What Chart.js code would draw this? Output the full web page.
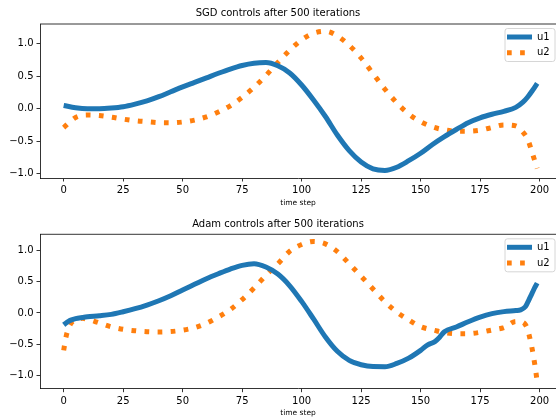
<!DOCTYPE html>
<html>
<head>
<meta charset="utf-8">
<script src="https://cdn.jsdelivr.net/npm/chart.js@4.4.1/dist/chart.umd.min.js"></script>
<style>
  html, body { margin: 0; padding: 0; background: #fff; overflow: hidden; }
  #wrap { position: relative; width: 556px; height: 419px; }
  canvas { position: absolute; left: 0; }
</style>
</head>
<body>
<div id="wrap">
  <canvas id="sgd" width="556" height="210" style="top:0"></canvas>
  <canvas id="adam" width="556" height="209" style="top:210px"></canvas>
</div>
<script>
const xTicks = [0, 25, 50, 75, 100, 125, 150, 175, 200];
const yTicks = [-1.0, -0.5, 0.0, 0.5, 1.0];
const seriesLabels = ["u1", "u2"];

// SGD run
const sgdSteps = [0, 5, 10, 15, 20, 25, 30, 35, 40, 45, 50, 55, 60, 65, 70, 75, 80, 85, 90, 95,
  100, 105, 110, 115, 120, 125, 130, 135, 140, 145, 150, 155, 160, 165, 170, 175, 180, 185, 190, 193, 195, 197, 199];
const sgdU1 = [0.05, 0.015, 0.0, 0.0, 0.01, 0.03, 0.07, 0.12, 0.185, 0.26, 0.335, 0.405, 0.475, 0.545, 0.61, 0.665, 0.70, 0.71, 0.66, 0.55,
  0.365, 0.134, -0.12, -0.405, -0.645, -0.82, -0.925, -0.95, -0.9, -0.8, -0.685, -0.55, -0.43, -0.32, -0.215, -0.14, -0.085, -0.04, 0.02, 0.1, 0.18, 0.28, 0.39];
const sgdU2 = [-0.29, -0.135, -0.097, -0.105, -0.13, -0.16, -0.185, -0.2, -0.215, -0.218, -0.205, -0.175, -0.125, -0.05, 0.045, 0.175, 0.33, 0.51, 0.71, 0.9,
  1.06, 1.16, 1.19, 1.12, 0.975, 0.78, 0.54, 0.30, 0.09, -0.08, -0.2, -0.28, -0.325, -0.345, -0.345, -0.33, -0.29, -0.25, -0.265, -0.36, -0.47, -0.69, -0.92];

// Adam run
const adamSteps = [0, 1, 2, 3, 5, 8, 10, 15, 20, 25, 30, 35, 40, 45, 50, 55, 60, 65, 70, 75, 80, 85, 90, 95,
  100, 105, 110, 115, 120, 125, 130, 135, 140, 145, 150, 153, 156, 158, 160, 165, 170, 175, 180, 185, 190, 192, 194, 195, 196, 197, 198, 199];
const adamU1 = [-0.19, -0.16, -0.135, -0.115, -0.09, -0.072, -0.062, -0.045, -0.022, 0.02, 0.069, 0.128, 0.197, 0.277, 0.37, 0.46, 0.55, 0.63, 0.705, 0.765, 0.79, 0.737, 0.625, 0.437,
  0.186, -0.096, -0.385, -0.615, -0.76, -0.83, -0.86, -0.862, -0.81, -0.725, -0.6, -0.51, -0.46, -0.39, -0.3, -0.225, -0.14, -0.065, -0.01, 0.022, 0.04, 0.05, 0.1, 0.17, 0.25, 0.33, 0.41, 0.48];
const adamU2 = [-0.6, -0.38, -0.25, -0.17, -0.11, -0.086, -0.1, -0.16, -0.222, -0.262, -0.285, -0.3, -0.305, -0.298, -0.275, -0.235, -0.165, -0.065, 0.055, 0.215, 0.40, 0.605, 0.79, 0.99,
  1.10, 1.148, 1.11, 0.985, 0.79, 0.59, 0.385, 0.18, 0.015, -0.11, -0.22, -0.255, -0.28, -0.3, -0.315, -0.333, -0.332, -0.31, -0.273, -0.235, -0.135, -0.14, -0.185, -0.27, -0.42, -0.6, -0.83, -1.1];

const FONT = "DejaVu Sans";
const BLUE = "#1f77b4";
const ORANGE = "#ff7f0e";

const frameAndLegend = {
  id: "frameAndLegend",
  afterDraw(chart) {
    const { ctx, chartArea } = chart;
    ctx.save();
    // top spine (right spine falls outside the picture)
    ctx.strokeStyle = "#000";
    ctx.lineWidth = 0.8;
    ctx.beginPath();
    ctx.moveTo(chartArea.left, chartArea.top);
    ctx.lineTo(chartArea.right, chartArea.top);
    ctx.stroke();

    // legend, upper right
    const x0 = 505, y0 = chartArea.top + 4.5, w = 50, h = 33;
    ctx.beginPath();
    ctx.roundRect(x0, y0, w, h, 2.5);
    ctx.fillStyle = "rgba(255,255,255,0.8)";
    ctx.fill();
    ctx.strokeStyle = "#cccccc";
    ctx.lineWidth = 0.8;
    ctx.stroke();
    chart.data.datasets.forEach((ds, i) => {
      const y = y0 + 8.5 + i * 15.7;
      ctx.beginPath();
      ctx.setLineDash(ds.borderDash || []);
      ctx.lineCap = "butt";
      ctx.strokeStyle = ds.borderColor;
      ctx.lineWidth = ds.borderWidth;
      ctx.moveTo(x0 + 2, y);
      ctx.lineTo(x0 + 27, y);
      ctx.stroke();
      ctx.setLineDash([]);
      ctx.fillStyle = "#000";
      ctx.font = "10px '" + FONT + "'";
      ctx.textBaseline = "middle";
      ctx.fillText(ds.label, x0 + 32, y);
    });
    ctx.restore();
  },
};

function makeChart(id, title, steps, u1, u2, yMin, yMax, areaTop, titleY, xHeight, labelPad) {
  const points = (vals) => steps.map((t, i) => ({ x: t, y: vals[i] }));
  return new Chart(document.getElementById(id), {
    type: "line",
    data: {
      datasets: [
        {
          label: seriesLabels[0],
          data: points(u1),
          borderColor: BLUE,
          borderWidth: 5,
        },
        {
          label: seriesLabels[1],
          data: points(u2),
          borderColor: ORANGE,
          borderWidth: 5,
          borderDash: [4.7, 8.4],
        },
      ],
    },
    options: {
      responsive: false,
      animation: false,
      layout: { padding: 0 },
      elements: {
        point: { radius: 0 },
        line: { cubicInterpolationMode: "monotone", borderCapStyle: "butt", fill: false },
      },
      plugins: {
        legend: { display: false },
        tooltip: { enabled: false },
        title: {
          display: true,
          text: title,
          color: "#000",
          font: { family: FONT, size: 10, weight: "normal", lineHeight: 1.2 },
          padding: { top: titleY - 6, bottom: areaTop - titleY - 6 },
        },
      },
      scales: {
        x: {
          type: "linear",
          min: -9.95,
          max: 206.9,
          afterBuildTicks: (s) => { s.ticks = xTicks.map((v) => ({ value: v })); },
          afterFit: (s) => { s.height = xHeight; },
          ticks: {
            color: "#000",
            font: { family: FONT, size: 10 },
            padding: 3,
            maxRotation: 0,
            autoSkip: false,
            callback: (v) => String(v),
          },
          grid: { drawOnChartArea: false, drawTicks: true, tickLength: 3.5, color: "#000", lineWidth: 0.8 },
          border: { display: true, color: "#000", width: 0.8 },
          title: {
            display: true,
            text: "time step",
            color: "#000",
            font: { family: FONT, size: 7.5, lineHeight: 1.2 },
            padding: { top: 0, bottom: labelPad },
          },
        },
        y: {
          type: "linear",
          min: yMin,
          max: yMax,
          afterBuildTicks: (s) => { s.ticks = yTicks.map((v) => ({ value: v })); },
          afterFit: (s) => { s.width = 40; },
          ticks: {
            color: "#000",
            font: { family: FONT, size: 10 },
            padding: 3,
            callback: (v) => v.toFixed(1).replace("-", "\u2212"),
          },
          grid: { drawOnChartArea: false, drawTicks: true, tickLength: 3.5, color: "#000", lineWidth: 0.8 },
          border: { display: true, color: "#000", width: 0.8 },
        },
      },
    },
    plugins: [frameAndLegend],
  });
}

makeChart("sgd", "SGD controls after 500 iterations", sgdSteps, sgdU1, sgdU2, -1.066, 1.303, 24, 13.5, 32, 2.5);
makeChart("adam", "Adam controls after 500 iterations", adamSteps, adamU1, adamU2, -1.215, 1.263, 24.3, 14, 30.3, 1);
</script>
</body>
</html>
